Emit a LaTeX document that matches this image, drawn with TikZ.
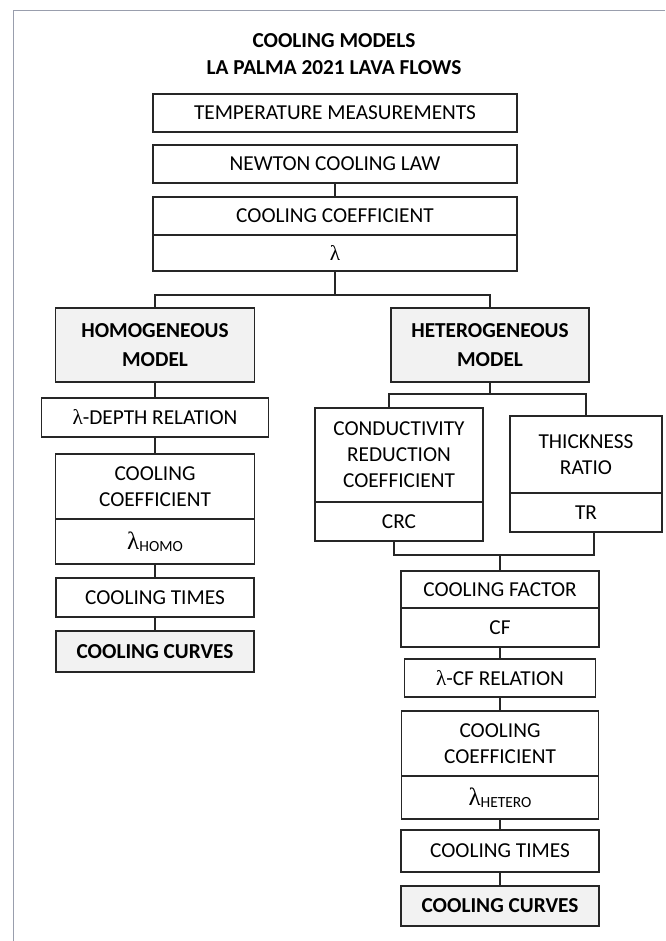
\documentclass[tikz,border=0pt]{standalone}
\usepackage{fontspec}
\setmainfont{Carlito}
\newfontfamily\greekfont{Liberation Serif}
\usepackage{tikz}
\usetikzlibrary{positioning}
\definecolor{boxgray}{rgb}{0.95,0.95,0.95}
\definecolor{framegray}{rgb}{0.6,0.62,0.68}
\newcommand{\lamsym}{{\greekfont λ}}
\newcommand{\lamsub}[1]{{\fontsize{25}{26}\selectfont\lamsym}\raisebox{-2.5pt}{\fontsize{15.5}{16}\selectfont #1}}

\begin{document}
\begin{tikzpicture}[
    x=1pt, y=-1pt,
    every node/.style={font=\fontsize{21.3}{26}\selectfont},
    box/.style={draw=black!85, line width=1.2pt, inner sep=0pt, outer sep=0pt, minimum width=198pt, minimum height=39pt, align=center},
    model/.style={box, fill=boxgray, font=\fontsize{21.3}{29}\selectfont\bfseries},
    link/.style={draw=black!85, line width=1.2pt}
]
    \useasboundingbox (0,0) rectangle (665,941);
    \draw[framegray, line width=1pt] (13.5,941) |- (665,10.5);

    \node[font=\fontsize{21.3}{27}\selectfont\bfseries, align=center] (title) at (334,54) {COOLING MODELS\\LA PALMA 2021 LAVA FLOWS};
    \node[box, minimum width=364pt, minimum height=38pt] (temp) at (335,113) {TEMPERATURE MEASUREMENTS};
    \node[box, minimum width=364pt, minimum height=38pt] (newton) at (335,164) {NEWTON COOLING LAW};
    \node[box, minimum width=364pt, minimum height=38pt] (coolcoef) at (335,216) {COOLING COEFFICIENT};
    \node[box, minimum width=364pt, minimum height=36pt, below=0pt of coolcoef] (lambda) {\lamsym};

    \node[model, minimum width=199pt, minimum height=74pt] (homog) at (155,345) {HOMOGENEOUS\\MODEL};
    \node[model, minimum height=74pt] (heterog) at (490,345) {HETEROGENEOUS\\MODEL};

    \node[box, minimum width=227pt] (lamdepth) at (155,417.5) {\lamsym-DEPTH RELATION};
    \node[box, minimum width=199pt, minimum height=65pt] (coolcoefho) at (155,486.5) {COOLING\\COEFFICIENT};
    \node[box, minimum width=199pt, minimum height=45pt, below=0pt of coolcoefho] (lamhomo) {\lamsub{HOMO}};
    \node[box] (timesho) at (155,597.5) {COOLING TIMES};
    \node[model, minimum height=41pt] (curvesho) at (155,651.5) {COOLING CURVES};

    \node[box, minimum width=168pt, minimum height=94pt] (conduct) at (399,455) {CONDUCTIVITY\\REDUCTION\\COEFFICIENT};
    \node[box, minimum width=168pt, below=0pt of conduct] (crc) {CRC};
    \node[box, minimum width=152pt, minimum height=77pt] (thick) at (586,454.5) {THICKNESS\\RATIO};
    \node[box, minimum width=152pt, below=0pt of thick] (tr) {TR};

    \node[box, minimum height=37pt] (coolfac) at (500,589.5) {COOLING FACTOR};
    \node[box, below=0pt of coolfac] (cf) {CF};
    \node[box, minimum width=191pt, minimum height=38pt] (lamcf) at (500,678) {\lamsym-CF RELATION};
    \node[box, minimum width=197pt, minimum height=65pt] (coolcoefhe) at (500,743.5) {COOLING\\COEFFICIENT};
    \node[box, minimum width=197pt, minimum height=43pt, below=0pt of coolcoefhe] (lamhetero) {\lamsub{HETERO}};
    \node[box, minimum height=42pt] (timeshe) at (500,851) {COOLING TIMES};
    \node[model, minimum height=40pt] (curveshe) at (500,906) {COOLING CURVES};

    \coordinate (fork) at (335,295);
    \coordinate (forkhe) at (490,394);
    \coordinate (join) at (500,555);

    \draw[link] (newton) -- (coolcoef);
    \draw[link] (lambda) -- (fork);
    \draw[link] (homog) |- (fork) -| (heterog);

    \draw[link] (homog) -- (lamdepth) -- (coolcoefho);
    \draw[link] (lamhomo) -- (timesho) -- (curvesho);

    \draw[link] (heterog) -- (forkhe);
    \draw[link] ([xshift=-10pt]conduct.north) |- (forkhe) -| (thick);
    \draw[link] ([xshift=-5pt]crc.south) |- (join) -| ([xshift=8pt]tr.south);
    \draw[link] (join) -- (coolfac);
    \draw[link] (cf) -- (lamcf) -- (coolcoefhe);
    \draw[link] (lamhetero) -- (timeshe) -- (curveshe);
\end{tikzpicture}
\end{document}
